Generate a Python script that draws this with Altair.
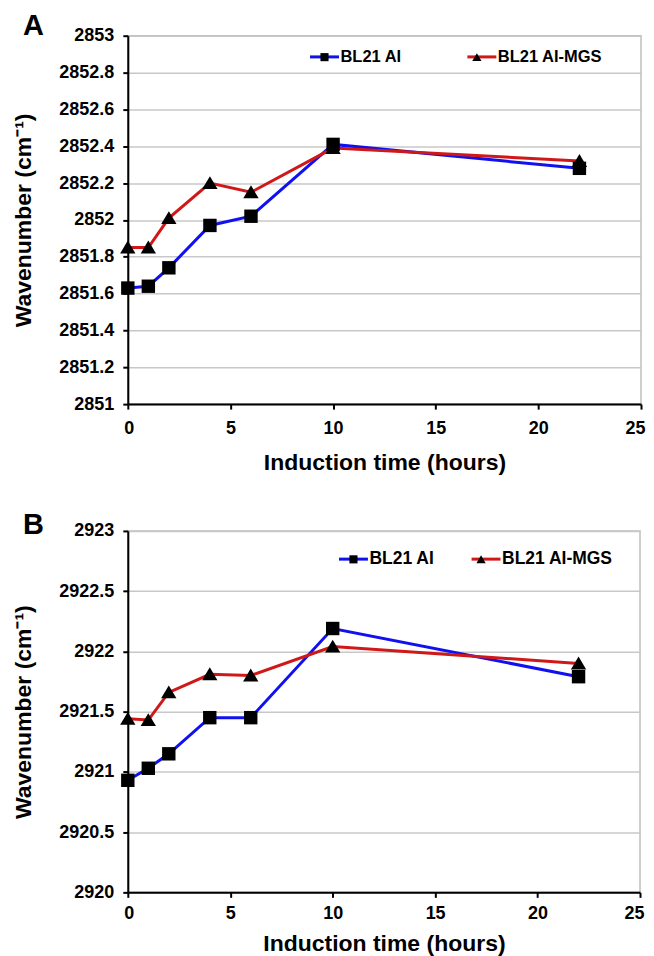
import altair as alt
import pandas as pd

# ---- data ----
hours = [0, 1, 2, 4, 6, 10, 22]
series_names = ["BL21 AI", "BL21 AI-MGS"]

a_ai = [2851.63, 2851.64, 2851.74, 2851.97, 2852.02, 2852.41, 2852.28]
a_mgs = [2851.85, 2851.85, 2852.01, 2852.20, 2852.15, 2852.39, 2852.32]

b_ai = [2920.93, 2921.03, 2921.15, 2921.45, 2921.45, 2922.19, 2921.79]
b_mgs = [2921.44, 2921.43, 2921.66, 2921.81, 2921.80, 2922.04, 2921.90]

x_ticks = [0, 5, 10, 15, 20, 25]
a_y_ticks = [2851, 2851.2, 2851.4, 2851.6, 2851.8, 2852, 2852.2, 2852.4, 2852.6, 2852.8, 2853]
b_y_ticks = [2920, 2920.5, 2921, 2921.5, 2922, 2922.5, 2923]

FONT = "Liberation Sans"
BLUE = "#1010f0"
RED = "#d01818"
SQUARE = "M-0.28,-0.28H0.28V0.28H-0.28Z"
TRIANGLE = "M0,-0.29L0.32,0.25L-0.32,0.25Z"


def make_df(ai, mgs):
    rows = []
    for name, vals in zip(series_names, [ai, mgs]):
        for h, v in zip(hours, vals):
            rows.append({"Hours": h, "Wavenumber": v, "Series": name, "Series2": name})
    return pd.DataFrame(rows)


def panel(df, label, yticks, ydomain, width, height, lx, ly, colpad, lfs,
          title_dy, xlabpad, xtitlepad):
    base = alt.Chart(df)
    x = alt.X("Hours:Q", scale=alt.Scale(domain=[0, 25], nice=False),
              axis=alt.Axis(values=x_ticks, grid=False, title="Induction time (hours)",
                            labelFlush=True, labelFlushOffset=4,
                            labelPadding=xlabpad, titlePadding=xtitlepad))
    y = alt.Y("Wavenumber:Q", scale=alt.Scale(domain=ydomain, nice=False, zero=False),
              axis=alt.Axis(values=yticks, format=".1~f", title="Wavenumber (cm\u207b\u00b9)",
                            labelPadding=9, titlePadding=23))
    common_leg = dict(orient="none", legendX=lx, legendY=ly, direction="horizontal",
                      title=None, symbolSize=841, symbolStrokeWidth=3, labelOffset=0,
                      columnPadding=colpad, labelFontSize=lfs, labelFont=FONT,
                      labelFontWeight="bold", padding=0)
    line = base.mark_line(strokeWidth=3).encode(
        x=x, y=y,
        color=alt.Color("Series:N", scale=alt.Scale(range=[BLUE, RED]),
                        legend=alt.Legend(symbolType="stroke", labelColor="black", **common_leg)),
    )
    pts = base.mark_point(filled=True, opacity=1, size=2300, color="black", strokeWidth=0).encode(
        x=x, y=y,
        shape=alt.Shape("Series2:N", scale=alt.Scale(range=[SQUARE, TRIANGLE]),
                        legend=alt.Legend(labelColor="transparent", symbolFillColor="black",
                                          symbolStrokeColor="transparent", symbolOpacity=1,
                                          **common_leg)),
    )
    return alt.layer(line, pts).properties(
        width=width, height=height,
        title=alt.TitleParams(label, anchor="start", frame="group", dx=-105, dy=title_dy,
                              fontSize=29, font=FONT, fontWeight="bold", color="black"),
    )


pa = panel(make_df(a_ai, a_mgs), "A", a_y_ticks, [2851, 2853], 514, 369,
           181, 5, 58.6, 16.5, 18, 10, 14)
pb = panel(make_df(b_ai, b_mgs), "B", b_y_ticks, [2920, 2923], 513, 362,
           210, 12, 29.8, 17.5, 22, 7, 10)

chart = alt.vconcat(pa, pb, spacing=35).resolve_scale(
    x="independent", y="independent", color="independent", shape="independent"
).properties(
    padding={"left": 4, "top": 2, "right": 0, "bottom": 0}
).configure_view(
    stroke="#bfbfbf", strokeWidth=1.5
).configure_axis(
    domainColor="black", domainWidth=2, tickColor="black", tickWidth=2, tickSize=5,
    gridColor="#c8c8c8", gridWidth=1.5,
    labelFont=FONT, labelFontSize=18, labelFontWeight="bold", labelColor="black",
    titleFont=FONT, titleFontSize=23, titleFontWeight="bold", titleColor="black",
)

chart.save("out.html", embed_options={"renderer": "svg", "actions": False})
